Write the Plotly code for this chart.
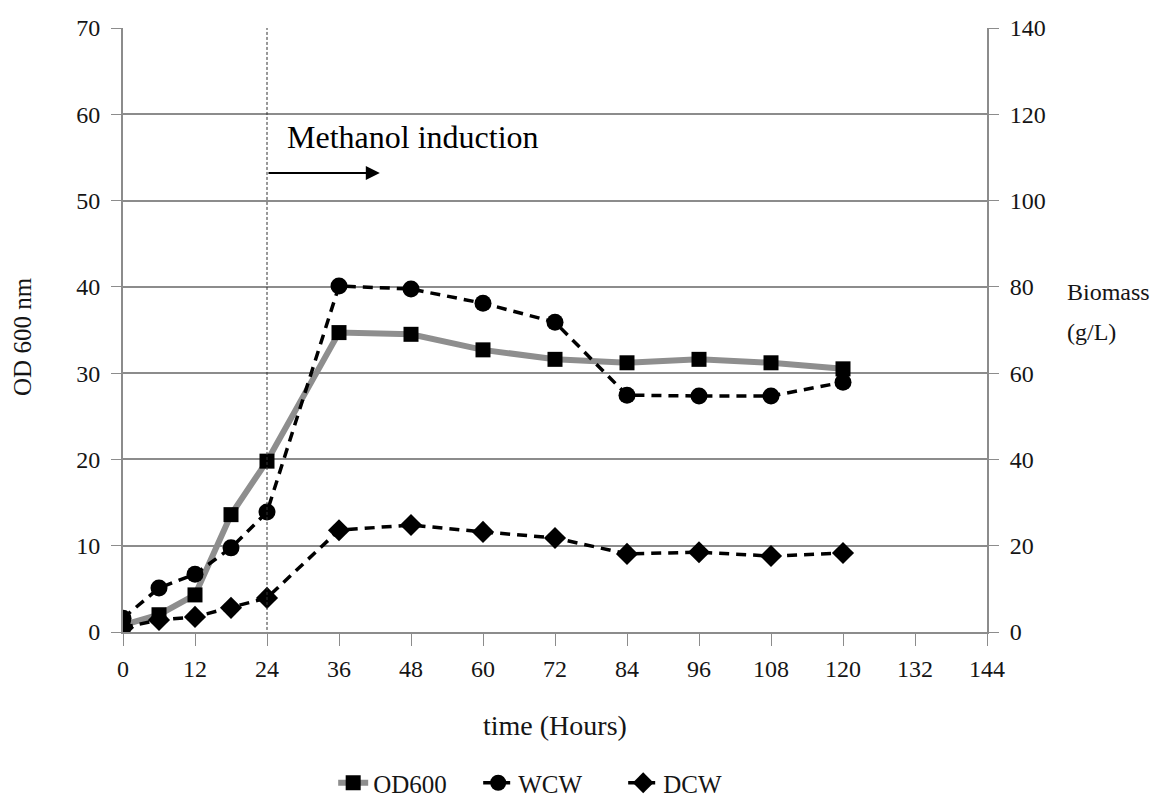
import plotly.graph_objects as go

time_h = [0, 6, 12, 18, 24, 36, 48, 60, 72, 84, 96, 108, 120]
od600 = [0.8, 2.0, 4.3, 13.6, 19.8, 34.7, 34.5, 32.7, 31.6, 31.2, 31.6, 31.2, 30.5]
wcw = [3.2, 10.2, 13.4, 19.5, 27.8, 80.2, 79.5, 76.2, 71.8, 54.9, 54.7, 54.7, 57.9]
dcw = [1.0, 2.8, 3.5, 5.6, 7.9, 23.6, 24.8, 23.2, 21.8, 18.1, 18.5, 17.6, 18.3]
x_ticks = list(range(0, 145, 12))
induction_time = 24

FONT = "Liberation Serif, Times New Roman, serif"
GRID = "#8c8c8c"
TXT = "#151515"

fig = go.Figure()
fig.add_trace(go.Scatter(
    x=time_h, y=od600, name="OD600", mode="lines+markers",
    line=dict(color="#8e8e8e", width=6),
    marker=dict(symbol="square", size=15, color="black"),
    yaxis="y"))
fig.add_trace(go.Scatter(
    x=time_h, y=wcw, name="WCW", mode="lines+markers",
    line=dict(color="black", width=3.5, dash="10px,7px"),
    marker=dict(symbol="circle", size=17, color="black"),
    yaxis="y2"))
fig.add_trace(go.Scatter(
    x=time_h, y=dcw, name="DCW", mode="lines+markers",
    line=dict(color="black", width=3.5, dash="10px,7px"),
    marker=dict(symbol="diamond", size=17, color="black"),
    yaxis="y2"))

fig.update_layout(
    width=1152, height=805,
    margin=dict(l=123, r=165, t=28, b=173, autoexpand=False),
    paper_bgcolor="white", plot_bgcolor="white",
    font=dict(family=FONT, size=24, color=TXT),
    showlegend=True,
    legend=dict(orientation="h", x=0.495, xanchor="center", y=-0.25, yanchor="middle",
                entrywidth=100, entrywidthmode="pixels",
                font=dict(family=FONT, size=25, color=TXT)),
    xaxis=dict(range=[0, 144], tickvals=x_ticks, showgrid=False, zeroline=False,
               showline=True, linecolor=GRID, linewidth=2, automargin=False,
               ticks="outside", ticklen=12, tickcolor=GRID, tickwidth=1,
               tickfont=dict(family=FONT, size=24, color=TXT), ticklabelstandoff=2),
    yaxis=dict(range=[0, 70], dtick=10, showgrid=True, gridcolor=GRID, gridwidth=2,
               zeroline=False, showline=True, linecolor=GRID, linewidth=2, automargin=False,
               ticks="outside", ticklen=10, tickcolor=GRID,
               tickfont=dict(family=FONT, size=24, color=TXT), ticklabelstandoff=6),
    yaxis2=dict(range=[0, 140], dtick=20, overlaying="y", side="right", showgrid=False,
                zeroline=False, showline=True, linecolor=GRID, linewidth=2, automargin=False,
                ticks="outside", ticklen=10, tickcolor=GRID,
                tickfont=dict(family=FONT, size=24, color=TXT), ticklabelstandoff=6),
)

fig.add_shape(type="line", xref="x", yref="y", x0=induction_time, x1=induction_time, y0=-1.5, y1=70,
              line=dict(color="#333", width=1, dash="3px,2px"))
fig.add_annotation(xref="x", yref="y", x=42.8, y=53.2, ax=induction_time, ay=53.2,
                   axref="x", ayref="y", showarrow=True, arrowhead=2, arrowsize=1.4,
                   arrowwidth=2, arrowcolor="black", text="")
fig.add_annotation(xref="x", yref="y", x=27, y=57.4, xanchor="left", yanchor="middle",
                   text="Methanol induction", showarrow=False,
                   font=dict(family=FONT, size=32, color="black"))
fig.add_annotation(xref="paper", yref="paper", x=0.5, y=-0.154, text="time (Hours)",
                   showarrow=False, xanchor="center", yanchor="middle",
                   font=dict(family=FONT, size=28, color=TXT))
fig.add_annotation(xref="paper", yref="y", x=-0.117, y=34.3, text="OD 600 nm", textangle=-90,
                   showarrow=False, xanchor="center", yanchor="middle",
                   font=dict(family=FONT, size=25, color=TXT))
fig.add_annotation(xref="paper", yref="y", x=1.09, y=39.4, text="Biomass",
                   showarrow=False, xanchor="left", yanchor="middle",
                   font=dict(family=FONT, size=24, color=TXT))
fig.add_annotation(xref="paper", yref="y", x=1.09, y=34.8, text="(g/L)",
                   showarrow=False, xanchor="left", yanchor="middle",
                   font=dict(family=FONT, size=24, color=TXT))

fig.write_html("out.html")
